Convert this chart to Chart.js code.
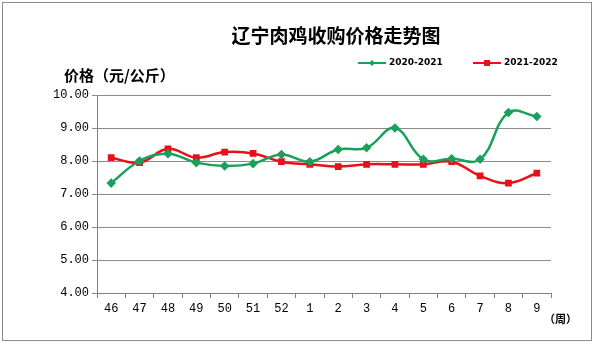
<!DOCTYPE html>
<html>
<head>
<meta charset="utf-8">
<script src="https://cdn.jsdelivr.net/npm/chart.js@4"></script>
<style>
  html, body { margin: 0; padding: 0; background: #fff; }
  #wrap { width: 594px; height: 343px; position: relative; }
</style>
</head>
<body>
<div id="wrap"><canvas id="chart" width="594" height="343"></canvas></div>
<script>
// weeks across the two seasons
const weeks = ['46', '47', '48', '49', '50', '51', '52', '1', '2', '3', '4', '5', '6', '7', '8', '9'];
const season2020 = [7.33, 8.00, 8.22, 7.95, 7.85, 7.92, 8.20, 7.98, 8.35, 8.40, 9.00, 8.05, 8.07, 8.05, 9.47, 9.35];
const season2021 = [8.10, 7.95, 8.37, 8.10, 8.27, 8.23, 7.98, 7.90, 7.83, 7.90, 7.90, 7.90, 7.98, 7.55, 7.33, 7.63];
const yTicks = [4, 5, 6, 7, 8, 9, 10];

const GREEN = '#1aa05a';
const RED = '#e8101a';

// titles, legend and frame drawn around the plot
const decorations = {
    id: 'decorations',
    afterDraw(chart) {
        const ctx = chart.ctx;
        ctx.save();
        ctx.strokeStyle = '#8c8c8c';
        ctx.lineWidth = 1;
        ctx.strokeRect(2.5, 2.5, 589, 338);

        ctx.fillStyle = '#000';
        ctx.textBaseline = 'middle';
        ctx.textAlign = 'center';
        ctx.font = 'bold 19px "Noto Sans CJK SC"';
        ctx.fillText('辽宁肉鸡收购价格走势图', 336, 36);

        ctx.textAlign = 'left';
        ctx.font = 'bold 15px "Noto Sans CJK SC"';
        ctx.fillText('价格（元/公斤）', 64, 75);

        ctx.font = 'bold 11px "Noto Sans CJK SC"';
        ctx.fillText('（周）', 544, 319);

        // legend
        const items = [
            { label: '2020-2021', color: GREEN, x: 358, shape: 'diamond' },
            { label: '2021-2022', color: RED, x: 473, shape: 'square' }
        ];
        ctx.font = 'bold 9px "DejaVu Sans"';
        items.forEach(it => {
            const y = 63;
            ctx.strokeStyle = it.color;
            ctx.lineWidth = 2;
            ctx.beginPath();
            ctx.moveTo(it.x, y);
            ctx.lineTo(it.x + 28, y);
            ctx.stroke();
            ctx.fillStyle = it.color;
            const cx = it.x + 14;
            if (it.shape === 'diamond') {
                ctx.beginPath();
                ctx.moveTo(cx, y - 3);
                ctx.lineTo(cx + 3, y);
                ctx.lineTo(cx, y + 3);
                ctx.lineTo(cx - 3, y);
                ctx.closePath();
                ctx.fill();
            } else {
                ctx.fillRect(cx - 3, y - 3, 6, 6);
            }
            ctx.fillStyle = '#000';
            ctx.fillText(it.label, it.x + 31, y);
        });
        ctx.restore();
    }
};

new Chart(document.getElementById('chart'), {
    type: 'line',
    data: {
        labels: weeks,
        datasets: [
            {
                label: '2020-2021',
                data: season2020,
                borderColor: GREEN,
                backgroundColor: GREEN,
                borderWidth: 2.5,
                pointStyle: 'rectRot',
                pointRadius: 3,
                tension: 0.4
            },
            {
                label: '2021-2022',
                data: season2021,
                borderColor: RED,
                backgroundColor: RED,
                borderWidth: 2.5,
                pointStyle: 'rect',
                pointRadius: 3,
                tension: 0.4
            }
        ]
    },
    options: {
        responsive: false,
        animation: false,
        layout: { padding: { top: 95, right: 43, left: 0, bottom: 0 } },
        plugins: {
            legend: { display: false },
            title: { display: false },
            tooltip: { enabled: false }
        },
        scales: {
            x: {
                offset: true,
                grid: {
                    offset: true,
                    drawOnChartArea: false,
                    drawTicks: true,
                    tickLength: 5,
                    color: '#808080'
                },
                border: { color: '#808080', width: 1 },
                ticks: {
                    color: '#000',
                    font: { family: 'Liberation Mono', size: 12 },
                    padding: 4,
                    maxRotation: 0,
                    autoSkip: false
                },
                afterFit(scale) { scale.height = 50; }
            },
            y: {
                min: 4,
                max: 10,
                afterBuildTicks(scale) {
                    scale.ticks = yTicks.map(v => ({ value: v }));
                },
                grid: {
                    color: '#8c8c8c',
                    tickLength: 5,
                    drawTicks: true
                },
                border: { color: '#808080', width: 1 },
                ticks: {
                    color: '#000',
                    font: { family: 'Liberation Mono', size: 12 },
                    padding: 3,
                    callback: v => v.toFixed(2)
                },
                afterFit(scale) { scale.width = 97; }
            }
        }
    },
    plugins: [decorations]
});
</script>
</body>
</html>
